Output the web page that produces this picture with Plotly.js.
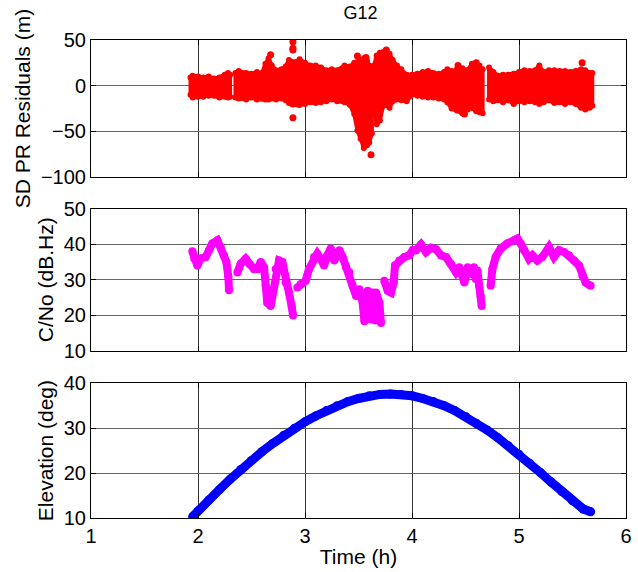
<!DOCTYPE html>
<html>
<head>
<meta charset="utf-8">
<script src="https://cdn.plot.ly/plotly-3.0.1.min.js"></script>
<style>html,body{margin:0;padding:0;background:#fff;}#chart{width:638px;height:572px;}</style>
</head>
<body>
<div id="chart"></div>
<script>
// ---- Residuals envelope (null separates data blocks) ----
const resTime = [1.93,1.95,2.00,2.05,2.10,2.15,2.20,2.25,2.28,2.30,null,
  2.35,2.38,2.45,2.50,2.55,2.60,2.63,2.66,2.69,2.73,2.78,2.82,2.85,2.88,2.895,null,
  2.915,2.95,3.00,3.05,3.10,3.15,3.20,3.25,3.30,3.37,3.42,3.46,3.49,3.52,3.55,3.58,3.60,3.625,null,
  3.645,3.67,3.70,3.73,3.76,3.79,3.82,3.86,3.90,3.95,4.00,4.05,4.10,4.15,4.20,4.25,4.30,4.33,4.37,4.42,4.47,4.52,4.56,4.60,4.63,4.66,null,
  4.72,4.76,4.80,4.85,4.90,4.95,5.00,5.05,5.10,5.15,5.19,5.23,5.28,5.33,5.38,5.43,5.48,5.53,5.58,5.62,5.66,5.685];
const resUpper = [9,11,10,9,10,8,9,12,14,12,null,
  14,16,14,13,15,14,24,30,22,17,18,21,28,26,18,null,
  26,29,25,22,22,20,17,18,17,22,21,25,26,28,30,27,22,18,null,
  22,33,36,37,38,35,28,22,18,12,12,13,15,16,14,13,15,18,16,18,19,17,24,25,22,18,null,
  20,15,11,12,12,13,15,17,16,17,22,15,17,17,16,16,15,16,18,17,14,14];
const resLower = [-10,-13,-12,-12,-11,-11,-13,-12,-13,-12,null,
  -13,-14,-15,-13,-15,-14,-15,-15,-14,-15,-14,-16,-19,-20,-12,null,
  -19,-21,-20,-18,-19,-18,-17,-15,-17,-18,-21,-31,-49,-58,-68,-65,-62,-52,null,
  -28,-42,-38,-22,-21,-24,-17,-15,-16,-17,-10,-11,-12,-13,-13,-14,-15,-18,-25,-27,-30,-26,-24,-28,-29,-30,null,
  -15,-17,-16,-18,-16,-20,-17,-18,-17,-18,-20,-18,-16,-19,-18,-20,-18,-20,-24,-26,-24,-22];
// isolated residual points
const outT = [2.679,2.887,2.887,2.887,2.887,2.887,2.93,3.49,3.57,3.617,3.76,4.43,4.49,4.60,5.59];
const outV = [34,48,41,39,-35,-20,-20,32.6,31,-75.5,39,22,-31,25,25];

// ---- C/No (dB.Hz) ----
const cnoTime = [1.947,1.965,1.994,2.025,2.072,2.103,2.134,2.181,2.212,2.243,2.265,2.283,2.29,null,
  2.368,2.399,2.445,2.477,2.523,2.555,2.586,2.617,2.632,2.648,2.679,2.701,2.726,2.757,2.788,2.819,2.850,2.875,2.888,null,
  2.928,2.960,3.006,3.037,3.084,3.115,3.146,3.178,3.209,3.240,3.274,3.321,3.352,3.383,3.414,3.445,3.477,3.508,3.539,3.555,3.570,3.586,3.601,3.617,3.632,3.645,3.655,3.664,3.695,3.710,null,
  3.741,3.773,3.804,3.829,3.841,3.882,3.928,3.975,4.006,4.037,4.084,4.131,4.178,4.224,4.271,4.318,4.364,4.411,4.442,4.489,4.520,4.551,4.579,4.595,4.611,4.626,4.642,4.651,null,
  4.735,4.751,4.782,4.829,4.891,4.953,4.984,5.016,5.047,5.093,5.125,5.171,5.218,5.280,5.327,5.374,5.421,5.467,5.514,5.561,5.592,5.623,5.670];
const cnoValue = [38,36,34,36,36.4,38.3,40.2,41.1,39.2,36.9,35,31,27,null,
  32,34.5,35.9,34.5,33,33,35,33.5,28.3,23.5,22.6,26.4,33,35.4,35,29.2,26.4,22.6,19.9,null,
  27.8,28.8,29.7,33,36.4,37.3,35.9,34,36.9,38.8,35.4,38.3,36.4,33.5,32.1,28.3,25.4,27.3,23.5,18.3,25,26.9,23.5,18.8,26.4,22,18.5,26.4,23.5,17.8,null,
  29.7,26.9,26.4,29.2,34,35.4,36.4,36.9,38.3,38.3,39.9,37.8,39,38.6,36.9,36.4,34.5,32.1,33.5,29.2,33.5,31.6,33.5,30.2,32.6,28.3,25.4,22.6,null,
  28.3,33,36.4,38.8,40.2,41.1,41.6,40.2,38.3,35.9,36.9,35.4,36.4,39.2,36.4,38.3,37.8,36.9,35.4,34,31.1,29.2,28.3];

// ---- Elevation (deg) ----
const elevTime = [1.95,2.0,2.1,2.2,2.3,2.4,2.5,2.6,2.7,2.8,2.9,3.0,3.1,3.2,3.3,3.4,3.5,3.6,3.7,3.8,3.9,4.0,4.1,4.2,4.3,4.4,4.5,4.6,4.7,4.8,4.9,5.0,5.1,5.2,5.3,5.4,5.5,5.6,5.67];
const elevValue = [10.3,11.6,14.0,16.3,18.6,20.8,22.8,24.8,26.6,28.4,30.0,31.4,32.7,33.9,35.0,35.9,36.6,37.2,37.5,37.6,37.5,37.2,36.6,35.9,35.0,33.9,32.6,31.1,29.6,27.9,26.1,24.2,22.2,20.1,18.0,15.9,13.8,12.0,11.4];

const xTicks = [1,2,3,4,5,6];

// build closed polygons for the residual band
function bandPolygons(t, hi, lo){
  const px = [], py = [];
  let seg = [];
  const flush = () => {
    if(!seg.length) return;
    seg.forEach(i => { px.push(t[i]); py.push(hi[i]); });
    seg.slice().reverse().forEach(i => { px.push(t[i]); py.push(lo[i]); });
    px.push(t[seg[0]]); py.push(hi[seg[0]]);
    px.push(null); py.push(null);
    seg = [];
  };
  for(let i=0;i<t.length;i++){ if(t[i]===null) flush(); else seg.push(i); }
  flush();
  return {px, py};
}
const band = bandPolygons(resTime, resUpper, resLower);

const RED = '#ff0000', MAG = '#ff00ff', BLUE = '#0000ff';
const traces = [
  {x: band.px, y: band.py, xaxis:'x', yaxis:'y', type:'scatter', mode:'lines',
   fill:'toself', fillcolor:RED, line:{color:RED, width:4}, connectgaps:false, hoverinfo:'skip'},
  {x: resTime, y: resUpper, xaxis:'x', yaxis:'y', type:'scatter', mode:'markers',
   marker:{color:RED, size:6}, hoverinfo:'skip'},
  {x: resTime, y: resLower, xaxis:'x', yaxis:'y', type:'scatter', mode:'markers',
   marker:{color:RED, size:6}, hoverinfo:'skip'},
  {x: outT, y: outV, xaxis:'x', yaxis:'y', type:'scatter', mode:'markers',
   marker:{color:RED, size:7}},
  {x: cnoTime, y: cnoValue, xaxis:'x2', yaxis:'y2', type:'scatter', mode:'lines+markers',
   line:{color:MAG, width:8}, marker:{color:MAG, size:8}, connectgaps:false},
  {x: elevTime, y: elevValue, xaxis:'x3', yaxis:'y3', type:'scatter', mode:'lines+markers',
   line:{color:BLUE, width:9}, marker:{color:BLUE, size:9}}
];

const FONT = 'Liberation Sans, Arial, sans-serif';
const FS = 20;
const TFS = 21;
function xax(showLabels, anchor){
  return {range:[1,6], tickvals:xTicks, ticktext: showLabels ? xTicks.map(String) : xTicks.map(()=>''),
    showgrid:true, gridcolor:'#333', gridwidth:1, zeroline:false,
    showline:true, linecolor:'#000', linewidth:1, mirror:'ticks', ticks:'inside', ticklen:5, tickcolor:'#000',
    anchor:anchor, tickfont:{family:FONT, size:FS, color:'#000'}};
}
function yax(range, ticks, title, domain, anchor){
  return {range:range, tickvals:ticks, domain:domain, anchor:anchor,
    showgrid:true, gridcolor:'#666', gridwidth:1, zeroline:false,
    showline:true, linecolor:'#000', linewidth:1, mirror:'ticks', ticks:'inside', ticklen:5, tickcolor:'#000',
    tickfont:{family:FONT, size:FS, color:'#000'},
    title:{text:title, font:{family:FONT, size:TFS, color:'#000'}, standoff:4}};
}
const layout = {
  width:638, height:572, showlegend:false,
  paper_bgcolor:'#fff', plot_bgcolor:'#fff',
  margin:{l:91, r:12, t:40, b:54},
  title:{text:'G12', font:{family:FONT, size:18, color:'#000'}, x:0.565, xanchor:'center',
         yref:'container', y:0.978, yanchor:'middle'},
  xaxis: Object.assign(xax(false,'y'), {domain:[0,1]}),
  xaxis2: Object.assign(xax(false,'y2'), {domain:[0,1], matches:'x'}),
  xaxis3: Object.assign(xax(true,'y3'), {domain:[0,1], title:{text:'Time (h)', font:{family:FONT, size:TFS, color:'#000'}, standoff:3}}),
  yaxis: yax([-100,50],[-100,-50,0,50],'SD PR Residuals (m)',[0.713,1],'x'),
  yaxis2: yax([10,50],[10,20,30,40,50],'C/No (dB.Hz)',[0.35,0.647],'x2'),
  yaxis3: yax([10,40],[10,20,30,40],'Elevation (deg)',[0,0.282],'x3')
};
Plotly.newPlot('chart', traces, layout, {displayModeBar:false, staticPlot:true});
</script>
</body>
</html>
